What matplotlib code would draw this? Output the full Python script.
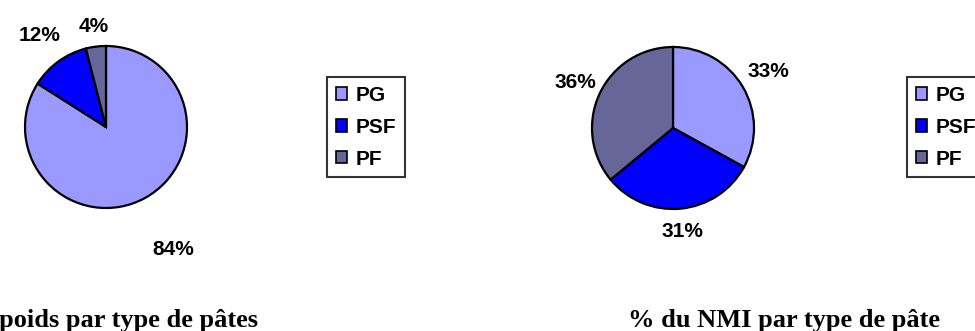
import numpy as np
import matplotlib
matplotlib.use("Agg")
import matplotlib.pyplot as plt

# pie data (percent shares)
categories = ["PG", "PSF", "PF"]
poids_pct = [84, 12, 4]
nmi_pct = [33, 31, 36]
colors = ["#9999FF", "#0000FF", "#666699"]

W, H = 975, 331
fig = plt.figure(figsize=(W / 100, H / 100), dpi=100)
fig.patch.set_facecolor("white")

label_font = dict(family="Liberation Sans", weight="bold", size=15)
title_font = dict(family="Liberation Serif", weight="bold", size=19)


def pie_axes(cx, cy, r):
    # cx, cy, r in pixels measured from the top-left corner
    return fig.add_axes([(cx - r) / W, (H - cy - r) / H, 2 * r / W, 2 * r / H])


def draw_pie(ax, values, dists):
    wedges, _ = ax.pie(values, colors=colors, startangle=90, counterclock=False,
                       wedgeprops=dict(edgecolor="black", linewidth=1.6))
    for w, v, d in zip(wedges, values, dists):
        mid = np.deg2rad((w.theta1 + w.theta2) / 2)
        ax.text(d * np.cos(mid), d * np.sin(mid), f"{v}%", ha="center", va="center",
                **label_font)
    ax.set_xlim(-1, 1)
    ax.set_ylim(-1, 1)
    return wedges


def draw_legend(wedges, x0, y0):
    leg = fig.legend(wedges, categories, loc="upper left",
                     bbox_to_anchor=(x0 / W, 1 - y0 / H), borderaxespad=0,
                     prop=dict(family="Liberation Sans", weight="bold", size=15),
                     handlelength=0.55, handleheight=0.55, handletextpad=0.4,
                     labelspacing=0.62, borderpad=0.42, fancybox=False,
                     frameon=True, edgecolor="black")
    leg.get_frame().set_linewidth(1.5)
    for h in leg.legend_handles:
        h.set_edgecolor("black")
        h.set_linewidth(1.2)


ax1 = pie_axes(106, 127, 81)
w1 = draw_pie(ax1, poids_pct, [1.72, 1.39, 1.25])
draw_legend(w1, 327, 77)

ax2 = pie_axes(673, 128, 81)
w2 = draw_pie(ax2, nmi_pct, [1.37, 1.28, 1.33])
draw_legend(w2, 907, 77)

fig.text(258 / W, 4 / H, "% du poids par type de pâtes", ha="right", va="baseline",
         **title_font)
fig.text(784 / W, 4 / H, "% du NMI par type de pâte", ha="center", va="baseline",
         **title_font)

fig.savefig("out.png", dpi=100, facecolor="white")
